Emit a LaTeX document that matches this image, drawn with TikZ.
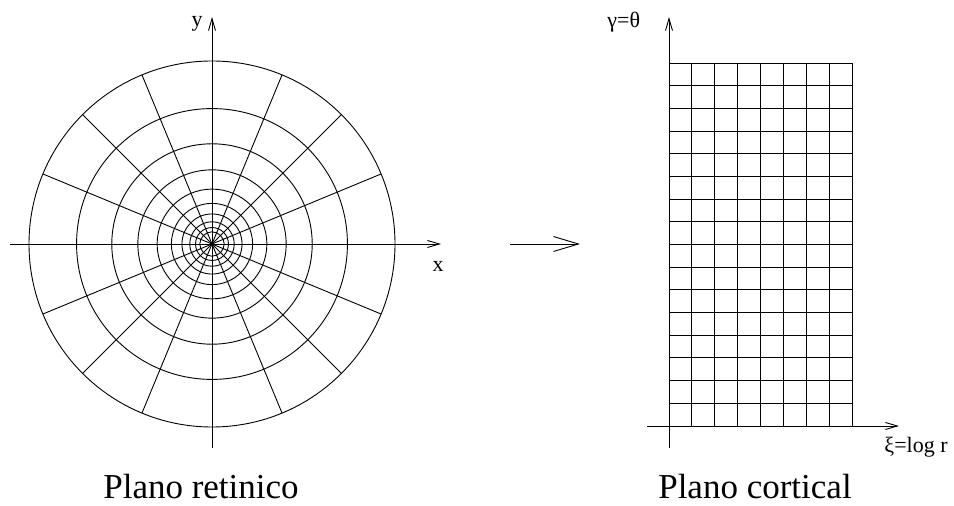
\documentclass[tikz,border=0pt]{standalone}
\usepackage{fontspec}
\setmainfont{Liberation Serif}
\usetikzlibrary{arrows.meta,positioning}

\begin{document}
\begin{tikzpicture}[x=1pt,y=1pt,line width=0.9pt,
  axis/.style={-{Straight Barb[length=12pt,width=7pt]}},
  maparrow/.style={-{Straight Barb[length=25pt,width=15pt]}},
  axlabel/.style={inner sep=0pt,anchor=base,font=\fontsize{22}{25}\selectfont},
  planetitle/.style={inner sep=0pt,anchor=base,font=\fontsize{35}{40}\selectfont}]
\useasboundingbox (0,0) rectangle (954,506);
% plano retinico
\coordinate (o) at (212,262);
\foreach \k in {0,...,9} \draw (o) circle[radius={183*0.74^\k}];
\foreach \a in {0,22.5,...,337.5} \draw (o) -- ++(\a:183);
\coordinate (xl) at (10,262);\coordinate (xr) at (441,262);
\coordinate (yb) at (212,58);\coordinate (yt) at (212,489);
\draw[axis] (xl)--(xr);\draw[axis] (yb)--(yt);
\node[axlabel] (xlab) at (438,234) {x};
\node[axlabel] (ylab) at (197,479) {y};
% transformacion
\coordinate (ma) at (510,262);\coordinate (mb) at (580,262);
\draw[maparrow] (ma)--(mb);
% plano cortical
\coordinate (c0) at (669,80);
\foreach \i in {0,...,8} \draw ([xshift=\i*22.875pt]c0) -- ++(0,363);
\foreach \j in {0,...,16} \draw ([yshift=\j*22.6875pt]c0) -- ++(183,0);
\coordinate (ul) at (647,80);\coordinate (ur) at (899,80);
\coordinate (vb) at (669,58);\coordinate (vt) at (669,489);
\draw[axis] (ul)--(ur);\draw[axis] (vb)--(vt);
\node[axlabel,anchor=base west] (glab) at (607,478) {γ=θ};
\node[axlabel,anchor=base west] (xilab) at (884,53) {ξ=log r};
% titulos
\node[planetitle] (ret) at (201,7) {Plano retinico};
\node[planetitle] (cor) at (755,7) {Plano cortical};
\end{tikzpicture}
\end{document}
